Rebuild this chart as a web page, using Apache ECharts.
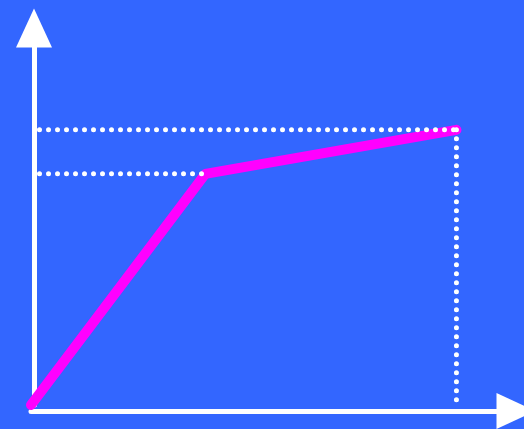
<!DOCTYPE html>
<html>
<head>
<meta charset="utf-8">
<script src="https://cdn.jsdelivr.net/npm/echarts@6/dist/echarts.min.js"></script>
<style>
  html, body { margin: 0; padding: 0; background: #3366ff; }
  #main { width: 524px; height: 429px; }
</style>
</head>
<body>
<div id="main"></div>
<script>
// curve points
var xValues = [0, 41, 100];
var yValues = [0, 84, 100];
var xMax = 114;
var yMax = 137;
var guideStart = 2;

var chart = echarts.init(document.getElementById('main'));

function dotted(points) {
  return {
    type: 'line',
    data: points,
    z: 4,
    silent: true,
    clip: false,
    showSymbol: false,
    lineStyle: { color: '#fff', width: 5, type: [0, 9], cap: 'round' }
  };
}

function axisLine() {
  return {
    show: true,
    onZero: false,
    symbol: ['none', 'triangle'],
    symbolSize: [36, 39],
    lineStyle: { color: '#fff', width: 5 }
  };
}

var curve = xValues.map(function (x, i) { return [x, yValues[i]]; });
var last = curve[curve.length - 1];
var mid = curve[1];

chart.setOption({
  backgroundColor: '#3366ff',
  animation: false,
  grid: { left: 31, right: 8, top: 28, bottom: 24 },
  xAxis: {
    type: 'value', min: 0, max: xMax, offset: 6,
    axisLine: axisLine(),
    axisTick: { show: false }, axisLabel: { show: false }, splitLine: { show: false }
  },
  yAxis: {
    type: 'value', min: 0, max: yMax, offset: -3,
    axisLine: axisLine(),
    axisTick: { show: false }, axisLabel: { show: false }, splitLine: { show: false }
  },
  series: [
    {
      type: 'line',
      data: curve,
      z: 3,
      clip: false,
      showSymbol: false,
      lineStyle: { color: '#ff00ff', width: 10, cap: 'round', join: 'round' }
    },
    dotted([[guideStart, last[1]], [last[0] + 1, last[1]]]),
    dotted([[last[0], last[1]], [last[0], 0]]),
    dotted([[guideStart, mid[1]], [mid[0], mid[1]]])
  ]
});
</script>
</body>
</html>
